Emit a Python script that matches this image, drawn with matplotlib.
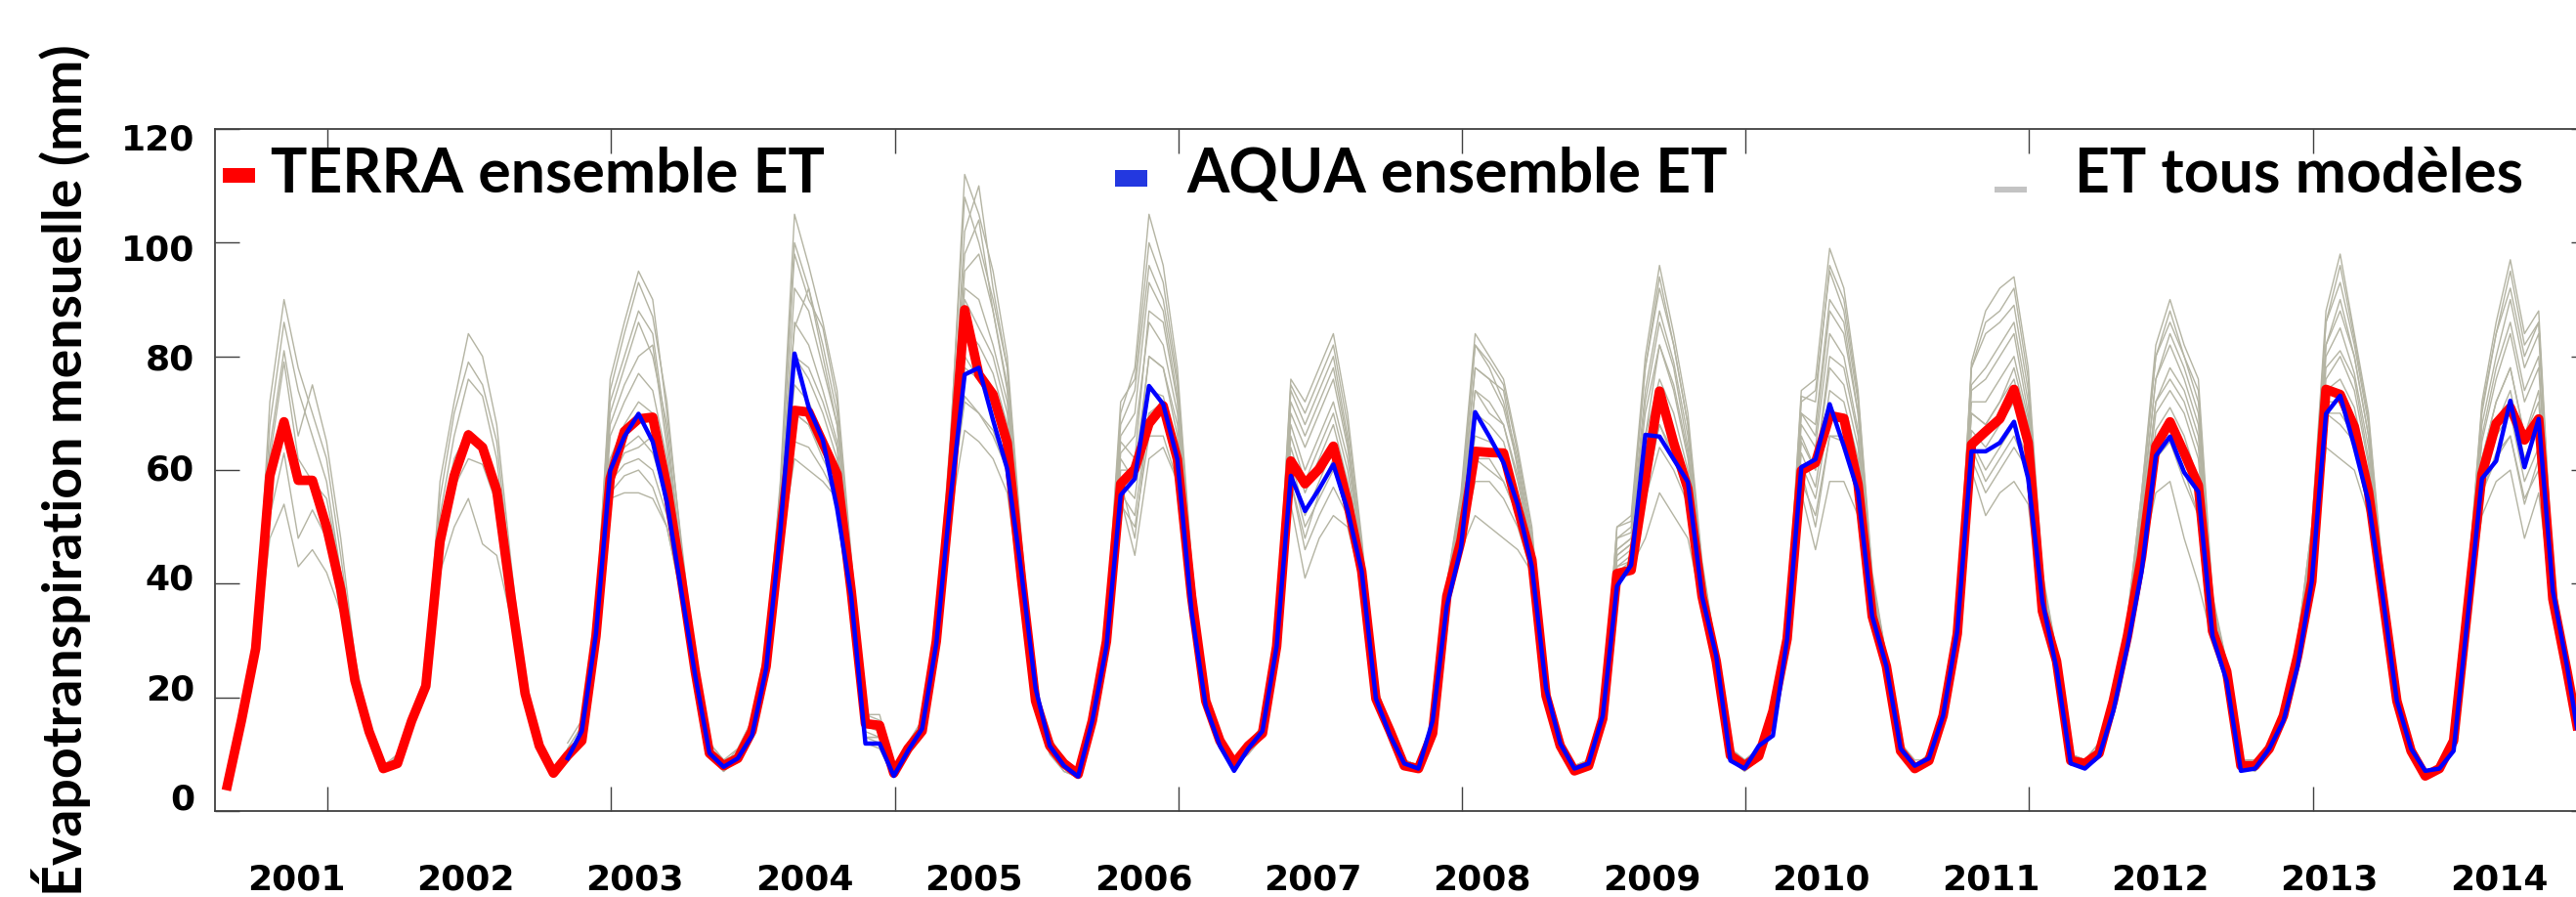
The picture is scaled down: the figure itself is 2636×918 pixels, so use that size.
import numpy as np
import matplotlib
matplotlib.use("Agg")
import matplotlib.pyplot as plt
from matplotlib.patches import Rectangle
import matplotlib.transforms as mtransforms

# monthly ET (mm), Jan 2001 .. Dec 2014
terra_et = [
    4.5, 16, 28.6, 59, 68.5, 58.2, 58.2, 50, 39, 23, 14, 7.5,
    8.4, 15.9, 22, 47.4, 59, 66.2, 64, 56.4, 37.8, 20.7, 11.5, 6.7,
    9.8, 12.4, 30.8, 58.5, 66.8, 69, 69.3, 57, 41.3, 24.6, 10.2, 8,
    9.3, 14.1, 25.5, 48.3, 70.5, 70.2, 64.8, 59.3, 38.7, 15.4, 15.1, 6.7,
    11, 14.1, 29.9, 56, 88.2, 76.8, 73.3, 64.8, 41, 19.4, 11.5, 8.4,
    6.5, 15.9, 29.9, 57.6, 60.2, 68.2, 71.3, 61.9, 37.8, 19.4, 12.4, 8.4,
    11.5, 13.7, 29, 61.6, 57.6, 60.2, 64.2, 54.4, 42.2, 19.8, 14.1, 8,
    7.5, 13.7, 37.8, 47.6, 63.3, 63.1, 63, 53.3, 44.2, 20.3, 11.5, 7.1,
    8, 16.3, 41.8, 42.4, 58.5, 73.9, 64.8, 56.7, 37.8, 26.4, 9.8, 8,
    9.7, 17.6, 30.3, 59.9, 61.3, 69.6, 69.1, 57.5, 34.3, 25.5, 10.6, 7.5,
    8.9, 16.8, 31.2, 64.5, 66.8, 69, 74.2, 64.8, 35.2, 26.4, 8.9, 8.4,
    10.2, 19.4, 30.8, 44.8, 64.2, 68.5, 63, 57.3, 31.7, 24.6, 8, 8,
    11, 16.8, 27.3, 40.4, 74.2, 73.3, 67.6, 56.2, 37.8, 19.4, 10.6, 6.2,
    7.5, 12.4, 36, 59.3, 68.2, 71, 65.3, 69, 37.3, 24.6, 11, 7,
]

# AQUA starts Jan 2003
aqua_et = [
    9.3, 14.1, 31.2, 59.9, 65.9, 69.9, 65, 54.4, 39, 23.8, 10.2, 7.8,
    9.3, 13.3, 25.1, 49.2, 80.5, 71, 65.3, 53.3, 37.8, 11.9, 11.9, 6.2,
    10.6, 14.5, 29.5, 55, 76.8, 78, 68.8, 60.2, 42, 21.6, 11.5, 8,
    6.1, 15.9, 29, 55.6, 58.5, 74.8, 71.6, 61.9, 35.1, 18.5, 11.5, 7.1,
    11, 14.1, 29, 59, 52.8, 56.7, 61, 53, 42.2, 19.8, 13.3, 8.4,
    7.5, 15.9, 36.1, 46.3, 70.2, 65.9, 61.3, 53.9, 43, 21.6, 11.9, 7.5,
    8.4, 16.8, 39.6, 43.3, 66.2, 65.9, 61.9, 57.9, 37.8, 27.3, 8.9, 7.5,
    11.5, 13.3, 30.3, 60.5, 61.9, 71.6, 64.2, 56.2, 34.3, 25.5, 11, 8,
    9.3, 16.8, 31.7, 63.3, 63.3, 64.8, 68.5, 58.5, 36.9, 25.1, 8.4, 7.5,
    9.7, 17.6, 29, 42.2, 62.5, 65.9, 59.6, 56.2, 30.8, 22.9, 7.1, 7.5,
    11, 15.9, 25.5, 40.4, 69.9, 73.1, 64.2, 54.4, 37.8, 19.4, 11, 7.1,
    7.5, 10.6, 34.3, 58.5, 61.6, 72.2, 60.5, 69, 38.7, 25.5, 10, 6.5,
]

# individual models, TERRA based (2001-2014)
terra_m1 = [
    4, 17, 30, 72, 90, 78, 70, 62, 45, 26, 15, 7,
    10, 17, 24, 58, 72, 84, 80, 68, 44, 22, 12, 7,
    10, 14, 34, 76, 86, 95, 90, 70, 48, 26, 12, 9,
    10, 15, 28, 58, 105, 96, 86, 74, 45, 17, 16, 7,
    12, 15, 32, 65, 112, 105, 95, 80, 48, 21, 12, 9,
    7, 17, 33, 70, 78, 105, 96, 78, 44, 21, 13, 9,
    12, 15, 32, 76, 72, 78, 84, 70, 48, 22, 15, 9,
    8, 15, 40, 56, 84, 80, 76, 64, 50, 22, 12, 8,
    9, 18, 50, 52, 80, 96, 84, 70, 44, 28, 11, 9,
    11, 19, 33, 74, 76, 99, 92, 74, 42, 27, 12, 8,
    10, 18, 34, 79, 88, 92, 94, 78, 42, 28, 10, 9,
    12, 21, 34, 56, 82, 90, 82, 76, 38, 26, 9, 9,
    12, 18, 30, 50, 88, 98, 84, 70, 42, 21, 12, 7,
    8, 14, 40, 72, 86, 97, 84, 88, 42, 26, 12, 8,
]
terra_m2 = [
    4, 16, 30, 68, 86, 74, 66, 58, 42, 24, 14, 7,
    9, 16, 23, 55, 70, 79, 75, 65, 42, 21, 11, 6,
    11, 15, 33, 72, 80, 88, 84, 66, 45, 25, 11, 8,
    11, 16, 29, 56, 100, 92, 82, 70, 44, 16, 15, 7,
    11, 15, 31, 62, 102, 110, 92, 78, 46, 20, 12, 8,
    7, 16, 32, 68, 74, 96, 90, 75, 42, 20, 13, 9,
    12, 14, 31, 74, 68, 74, 80, 66, 46, 21, 15, 9,
    8, 14, 39, 54, 82, 78, 72, 62, 48, 21, 12, 7,
    9, 17, 48, 50, 78, 94, 82, 68, 43, 28, 11, 9,
    10, 18, 32, 72, 74, 95, 88, 72, 40, 27, 11, 8,
    10, 18, 33, 78, 84, 86, 89, 74, 40, 28, 10, 9,
    11, 20, 33, 54, 80, 86, 80, 72, 36, 26, 9, 8,
    12, 18, 30, 48, 86, 93, 82, 68, 41, 21, 11, 7,
    8, 14, 39, 70, 84, 92, 80, 86, 41, 26, 12, 7,
]
terra_m3 = [
    5, 15, 29, 64, 81, 66, 75, 65, 48, 27, 15, 8,
    10, 16, 24, 52, 66, 76, 73, 62, 40, 21, 12, 7,
    10, 13, 32, 68, 75, 80, 82, 64, 44, 25, 11, 9,
    10, 15, 27, 54, 85, 92, 80, 68, 42, 17, 17, 8,
    12, 16, 32, 60, 95, 98, 88, 74, 45, 21, 13, 9,
    6, 16, 31, 65, 62, 88, 86, 72, 41, 20, 12, 8,
    11, 14, 30, 70, 64, 70, 76, 64, 45, 21, 14, 8,
    7, 14, 38, 52, 78, 76, 74, 60, 47, 21, 12, 7,
    8, 17, 46, 48, 72, 86, 78, 64, 42, 27, 10, 8,
    11, 19, 33, 70, 66, 88, 84, 70, 40, 27, 12, 9,
    9, 17, 32, 74, 76, 80, 84, 70, 39, 27, 10, 9,
    11, 20, 33, 52, 76, 82, 76, 68, 35, 25, 9, 8,
    11, 17, 29, 46, 82, 88, 80, 66, 40, 20, 11, 7,
    8, 13, 38, 66, 78, 86, 74, 80, 40, 25, 11, 7,
]
terra_m4 = [
    5, 16, 28, 62, 79, 62, 58, 55, 42, 25, 14, 8,
    9, 15, 22, 50, 62, 67, 64, 58, 38, 20, 11, 6,
    9, 12, 30, 62, 68, 72, 70, 60, 42, 24, 10, 8,
    9, 14, 26, 50, 80, 78, 72, 64, 40, 16, 15, 7,
    11, 14, 30, 58, 90, 85, 80, 70, 44, 20, 12, 8,
    7, 17, 32, 62, 58, 80, 78, 68, 40, 20, 13, 9,
    12, 15, 31, 66, 58, 64, 70, 60, 44, 20, 15, 9,
    8, 15, 39, 50, 74, 70, 68, 58, 46, 20, 12, 8,
    9, 18, 45, 47, 66, 82, 74, 62, 41, 27, 11, 9,
    10, 18, 31, 66, 60, 80, 78, 66, 38, 26, 11, 8,
    10, 18, 33, 70, 68, 72, 78, 68, 38, 27, 10, 9,
    11, 20, 32, 50, 72, 76, 72, 64, 34, 25, 9, 8,
    11, 17, 28, 44, 78, 81, 76, 62, 39, 20, 11, 6,
    8, 13, 37, 62, 72, 78, 66, 74, 39, 25, 11, 7,
]
terra_m5 = [
    4, 15, 27, 52, 63, 48, 53, 48, 38, 24, 13, 7,
    8, 15, 21, 45, 57, 62, 61, 54, 36, 19, 11, 6,
    10, 13, 31, 58, 63, 64, 66, 56, 40, 24, 11, 8,
    10, 14, 26, 48, 70, 68, 63, 58, 38, 15, 14, 6,
    10, 14, 29, 55, 80, 76, 72, 64, 41, 19, 11, 8,
    6, 15, 30, 58, 48, 70, 72, 64, 38, 19, 12, 8,
    11, 13, 29, 58, 48, 56, 62, 54, 42, 20, 14, 8,
    7, 13, 37, 48, 62, 60, 58, 52, 43, 20, 11, 7,
    8, 16, 43, 44, 56, 68, 62, 55, 38, 26, 10, 8,
    9, 17, 30, 60, 50, 66, 66, 58, 35, 25, 10, 7,
    9, 16, 31, 64, 58, 62, 66, 60, 36, 26, 9, 8,
    10, 19, 31, 46, 62, 66, 60, 52, 32, 24, 8, 8,
    11, 17, 28, 42, 70, 70, 66, 56, 37, 19, 10, 6,
    7, 12, 36, 56, 62, 66, 54, 62, 37, 24, 11, 7,
]
terra_m6 = [
    5, 16, 27, 48, 54, 43, 46, 42, 35, 22, 13, 8,
    9, 16, 22, 42, 50, 55, 47, 45, 34, 19, 12, 7,
    9, 12, 29, 55, 56, 56, 55, 50, 38, 23, 10, 8,
    9, 13, 25, 46, 62, 60, 58, 55, 36, 15, 15, 7,
    11, 15, 30, 54, 73, 70, 67, 60, 40, 19, 12, 9,
    7, 16, 30, 55, 45, 62, 64, 58, 36, 19, 12, 8,
    11, 14, 30, 54, 41, 48, 52, 50, 40, 19, 14, 8,
    7, 14, 37, 46, 52, 50, 48, 46, 42, 19, 11, 7,
    8, 16, 42, 43, 48, 56, 52, 48, 36, 25, 10, 8,
    10, 17, 30, 56, 46, 58, 58, 52, 33, 24, 11, 8,
    9, 17, 31, 60, 52, 56, 58, 54, 34, 25, 9, 8,
    10, 19, 31, 44, 56, 58, 48, 40, 30, 24, 8, 8,
    10, 16, 27, 41, 64, 62, 60, 52, 36, 19, 10, 6,
    7, 12, 35, 52, 58, 60, 48, 56, 36, 24, 10, 7,
]

# individual models, AQUA based (2003-2014)
aqua_m1 = [
    12, 16, 35, 74, 84, 93, 87, 72, 47, 26, 12, 9,
    11, 16, 29, 57, 98, 90, 85, 72, 44, 14, 13, 7,
    12, 16, 33, 66, 108, 100, 90, 78, 47, 22, 13, 9,
    7, 17, 33, 72, 76, 100, 93, 76, 43, 21, 13, 9,
    12, 15, 32, 75, 70, 76, 82, 68, 47, 22, 15, 9,
    8, 15, 40, 55, 82, 79, 75, 63, 49, 22, 12, 8,
    9, 18, 50, 51, 78, 92, 82, 68, 43, 28, 11, 9,
    11, 19, 33, 73, 72, 96, 90, 73, 41, 27, 12, 8,
    10, 18, 34, 78, 86, 88, 92, 76, 41, 28, 10, 9,
    12, 21, 34, 56, 80, 88, 80, 74, 37, 26, 9, 9,
    12, 18, 30, 50, 86, 96, 83, 69, 41, 21, 12, 7,
    8, 14, 40, 71, 84, 95, 82, 86, 41, 26, 12, 8,
]
aqua_m2 = [
    11, 15, 33, 70, 78, 86, 80, 68, 45, 25, 11, 8,
    10, 15, 28, 54, 92, 88, 78, 68, 42, 13, 13, 6,
    11, 15, 31, 62, 98, 104, 88, 75, 45, 21, 12, 8,
    6, 16, 31, 66, 70, 93, 88, 73, 42, 20, 12, 8,
    11, 14, 31, 72, 66, 72, 78, 65, 46, 21, 14, 9,
    8, 14, 39, 53, 78, 76, 71, 61, 47, 21, 12, 7,
    9, 17, 48, 49, 74, 88, 79, 66, 42, 27, 10, 8,
    10, 18, 32, 70, 68, 90, 86, 70, 40, 27, 11, 8,
    10, 18, 33, 75, 78, 82, 86, 72, 40, 27, 10, 9,
    11, 20, 33, 53, 76, 84, 78, 70, 36, 26, 9, 8,
    12, 18, 29, 48, 82, 90, 80, 66, 40, 20, 11, 7,
    8, 14, 39, 68, 80, 90, 78, 84, 40, 26, 12, 7,
]
aqua_m3 = [
    10, 14, 32, 66, 72, 77, 74, 62, 43, 24, 11, 8,
    10, 15, 27, 52, 86, 82, 74, 65, 41, 13, 12, 6,
    11, 15, 30, 60, 92, 90, 82, 72, 44, 20, 12, 8,
    6, 16, 31, 63, 66, 86, 82, 70, 41, 20, 12, 8,
    11, 14, 30, 68, 60, 66, 72, 62, 45, 21, 14, 8,
    7, 14, 38, 51, 74, 72, 68, 59, 46, 21, 11, 7,
    8, 17, 46, 48, 70, 82, 75, 63, 41, 27, 10, 8,
    10, 18, 32, 68, 64, 84, 80, 67, 39, 26, 11, 8,
    9, 17, 32, 72, 72, 76, 80, 69, 39, 27, 10, 8,
    11, 20, 32, 51, 72, 78, 74, 66, 35, 25, 9, 8,
    11, 17, 29, 46, 80, 85, 77, 64, 39, 20, 11, 7,
    8, 13, 38, 65, 76, 84, 72, 78, 40, 25, 11, 7,
]
aqua_m4 = [
    10, 13, 31, 62, 66, 70, 68, 58, 41, 24, 10, 8,
    9, 14, 26, 50, 80, 76, 70, 62, 40, 12, 12, 6,
    10, 14, 29, 57, 85, 82, 77, 68, 42, 20, 11, 8,
    7, 16, 30, 60, 60, 80, 78, 66, 40, 19, 12, 8,
    11, 14, 30, 64, 56, 62, 68, 58, 43, 20, 14, 8,
    7, 14, 38, 50, 70, 68, 65, 56, 45, 20, 11, 7,
    8, 16, 45, 47, 66, 76, 70, 60, 40, 26, 10, 8,
    10, 17, 31, 65, 60, 78, 75, 64, 37, 26, 11, 8,
    9, 17, 32, 70, 68, 72, 76, 66, 38, 27, 9, 8,
    10, 19, 32, 49, 70, 74, 70, 62, 34, 25, 9, 8,
    11, 17, 28, 44, 76, 80, 74, 61, 38, 20, 11, 6,
    7, 13, 37, 62, 72, 78, 66, 72, 39, 25, 11, 7,
]
aqua_m5 = [
    9, 13, 30, 60, 64, 66, 63, 55, 40, 23, 10, 7,
    10, 14, 26, 49, 75, 72, 66, 60, 39, 13, 13, 7,
    11, 14, 30, 56, 78, 76, 72, 64, 41, 19, 11, 8,
    6, 15, 30, 58, 55, 74, 73, 63, 38, 19, 12, 8,
    11, 13, 29, 62, 52, 58, 64, 56, 42, 20, 14, 8,
    8, 14, 38, 49, 66, 65, 62, 54, 44, 20, 11, 7,
    8, 16, 44, 46, 62, 72, 66, 58, 39, 26, 10, 8,
    10, 17, 31, 63, 57, 74, 72, 62, 36, 25, 11, 8,
    9, 17, 31, 67, 64, 68, 72, 64, 37, 26, 9, 8,
    10, 19, 31, 48, 67, 71, 66, 58, 33, 24, 8, 8,
    11, 17, 28, 43, 74, 76, 71, 59, 38, 19, 10, 6,
    7, 13, 37, 60, 68, 74, 62, 68, 38, 25, 11, 7,
]
aqua_m6 = [
    10, 14, 31, 58, 61, 62, 60, 52, 39, 23, 11, 8,
    9, 13, 25, 48, 70, 68, 62, 57, 37, 12, 12, 6,
    10, 14, 29, 54, 72, 70, 66, 60, 40, 19, 11, 7,
    6, 15, 29, 56, 52, 70, 70, 60, 37, 18, 11, 8,
    10, 13, 29, 60, 50, 55, 60, 54, 41, 19, 13, 8,
    7, 13, 37, 48, 62, 62, 58, 52, 43, 19, 11, 7,
    8, 16, 43, 45, 58, 68, 63, 56, 38, 25, 10, 8,
    9, 17, 30, 61, 55, 70, 69, 60, 35, 25, 10, 7,
    9, 16, 31, 65, 60, 64, 68, 62, 36, 26, 9, 8,
    10, 19, 31, 47, 65, 68, 62, 55, 32, 24, 8, 8,
    10, 16, 27, 42, 72, 72, 68, 57, 37, 19, 10, 6,
    7, 12, 36, 58, 66, 70, 58, 64, 37, 24, 10, 7,
]
aqua_m7 = [
    9, 12, 29, 56, 59, 60, 57, 50, 38, 22, 10, 7,
    9, 13, 24, 47, 65, 64, 60, 55, 36, 12, 11, 6,
    10, 13, 28, 52, 67, 65, 62, 56, 38, 18, 10, 7,
    6, 15, 29, 54, 50, 66, 66, 58, 36, 18, 11, 7,
    11, 14, 30, 58, 46, 52, 57, 52, 40, 19, 13, 8,
    7, 13, 37, 47, 58, 58, 55, 50, 42, 19, 10, 7,
    8, 15, 42, 44, 55, 64, 60, 54, 37, 25, 9, 7,
    9, 16, 30, 58, 52, 66, 65, 58, 34, 24, 10, 7,
    9, 16, 30, 62, 56, 60, 64, 60, 35, 25, 9, 8,
    10, 18, 30, 46, 62, 65, 58, 52, 31, 23, 8, 7,
    10, 16, 27, 41, 70, 68, 65, 55, 36, 19, 10, 6,
    7, 12, 36, 56, 63, 66, 55, 60, 37, 24, 10, 7,
]

years = list(range(2001, 2015))
legend_labels = ["TERRA ensemble ET", "AQUA ensemble ET", "ET tous modèles"]

terra_models = [terra_m1, terra_m2, terra_m3, terra_m4, terra_m5, terra_m6]
aqua_models = [aqua_m1, aqua_m2, aqua_m3, aqua_m4, aqua_m5, aqua_m6, aqua_m7]

W, H, DPI = 2636, 918, 100
fig = plt.figure(figsize=(W / DPI, H / DPI), dpi=DPI)
# right spine sits just outside the picture, like in the original crop
ax = fig.add_axes([220 / W, (H - 830.2) / H, 2436 / W, 698.2 / H])

months = np.arange(len(terra_et))
aqua_start = 24
gray = "#b4b4a3"

for m in terra_models:
    ax.plot(months[:len(m)], m, color=gray, lw=1.0, zorder=1)
for m in aqua_models:
    ax.plot(months[aqua_start:aqua_start + len(m)], m, color=gray, lw=1.0, zorder=1)

ax.plot(months, terra_et, color="#ff0000", lw=7, solid_joinstyle="round", zorder=2)
ax.plot(months[aqua_start:aqua_start + len(aqua_et)], aqua_et, color="#0000ff", lw=3.2,
        solid_joinstyle="round", zorder=3)

ax.set_xlim(-0.868, 167.01)
ax.set_ylim(0, 120)
ax.set_yticks(range(0, 121, 20))
ax.set_xticks(np.arange(7.07, 160, 20))
ax.set_xticklabels([])

for sp in ax.spines.values():
    sp.set_color("#404040")
    sp.set_linewidth(1.3)
ax.tick_params(axis="both", direction="in", length=18, width=1.0, color="#404040",
               top=True, right=True)
ax.tick_params(axis="y", labelsize=26, pad=15)

# the y labels of the original sit a bit closer together than the ticks
fig.canvas.draw()
for lab, v in zip(ax.get_yticklabels(), ax.get_yticks()):
    lab.set_fontweight("bold")
    shift = (15 - 23.5 * v / 120) / DPI
    lab.set_transform(lab.get_transform() +
                      mtransforms.ScaledTranslation(0, shift, fig.dpi_scale_trans))

# year labels under the axis
trans = mtransforms.blended_transform_factory(ax.transData, ax.transAxes)
for k, yr in enumerate(years):
    ax.text(4.85 + 11.95 * k, -0.1, str(yr), transform=trans, ha="center", va="center",
            fontsize=26, fontweight="bold", clip_on=False)

fig.text(63 / W, 0.476, "Évapotranspiration mensuelle (mm)", rotation=90,
         ha="center", va="center", fontsize=40, fontweight="bold", family="Lato")

# legend drawn by hand, spread over the top of the plot
handle_style = [
    (0.00328, 0.9212, 0.0215, "#ff0000"),
    (0.3781, 0.9155, 0.0244, "#2338e0"),
    (0.7475, 0.9069, 0.0086, "#c3c3c3"),
]
text_x = [0.0232, 0.4080, 0.7810]
for (hx, hy, hh, hc), tx, lab in zip(handle_style, text_x, legend_labels):
    ax.add_patch(Rectangle((hx, hy), 0.01355, hh, transform=ax.transAxes,
                           facecolor=hc, edgecolor="none", zorder=5, clip_on=False))
    ax.text(tx, 0.907, lab, transform=ax.transAxes, ha="left", va="baseline",
            fontsize=45, fontweight="bold", family="Lato", zorder=5)

fig.savefig("out.png", dpi=DPI)
